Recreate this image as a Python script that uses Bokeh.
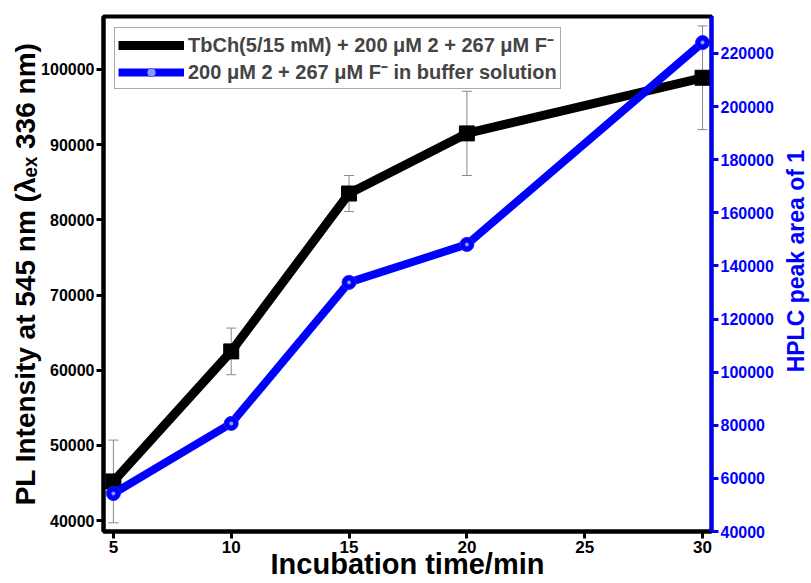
import math
from bokeh.plotting import figure
from bokeh.layouts import row
from bokeh.models import (Range1d, LinearAxis, ColumnDataSource, Whisker, Legend,
                          LegendItem, FixedTicker, BasicTickFormatter)
from bokeh.core.properties import value
from bokeh.embed import file_html
from bokeh.resources import INLINE

# ---- data ----
time_min = [5, 10, 15, 20, 30]
pl_intensity = [45200, 62500, 83500, 91500, 98900]
pl_error = [5500, 3100, 2400, 5600, 6900]
hplc_area = [54300, 80700, 133800, 148100, 224100]

x_ticks = [5, 10, 15, 20, 25, 30]
left_ticks = [40000, 50000, 60000, 70000, 80000, 90000, 100000]
right_ticks = [40000, 60000, 80000, 100000, 120000, 140000, 160000, 180000, 200000, 220000]

label_tb = "TbCh(5/15 mM) + 200 \u03bcM 2 + 267 \u03bcM F\u207b"
label_buf = "200 \u03bcM 2 + 267 \u03bcM F\u207b in buffer solution"
x_title = "Incubation time/min"
left_title = "PL Intensity at 545 nm (\u03bb\u2091\u2093 336 nm)"
right_title = "HPLC peak area of 1"

FONT = "Liberation Sans"
BLUE = "#0000ff"
MAIN_W, TITLE_W, H = 783, 28, 583

p = figure(width=MAIN_W, height=H,
           x_range=Range1d(4.58, 30.38), y_range=Range1d(38540, 107050),
           output_backend="svg", toolbar_location=None,
           min_border_left=103, min_border_right=72, min_border_top=16, min_border_bottom=52)
p.extra_y_ranges = {"right": Range1d(40000, 233930)}
p.xgrid.visible = False
p.ygrid.visible = False
p.outline_line_color = "black"
p.outline_line_width = 4
p.outline_line_alpha = 1.0
p.background_fill_color = "white"
p.border_fill_color = "white"

right_axis = LinearAxis(y_range_name="right")
p.add_layout(right_axis, "right")


def style_axis(ax, color, ticks, tick_size, title, title_size, standoff):
    ax.ticker = FixedTicker(ticks=ticks)
    ax.formatter = BasicTickFormatter(use_scientific=False)
    ax.axis_line_color = color
    ax.axis_line_width = 4
    ax.major_tick_line_color = color
    ax.major_tick_line_width = 3
    ax.major_tick_out = 7
    ax.major_tick_in = 0
    ax.minor_tick_line_color = None
    ax.major_label_text_font = FONT
    ax.major_label_text_font_style = "bold"
    ax.major_label_text_font_size = tick_size
    ax.major_label_text_color = color
    ax.major_label_standoff = 2
    if title:
        ax.axis_label = title
        ax.axis_label_text_font = FONT
        ax.axis_label_text_font_style = "bold"
        ax.axis_label_text_font_size = title_size
        ax.axis_label_text_color = color
        ax.axis_label_standoff = standoff


style_axis(p.xaxis[0], "black", x_ticks, "17px", x_title, "29px", -8)
style_axis(p.yaxis[0], "black", left_ticks, "16px", left_title, "28px", -3)
style_axis(right_axis, BLUE, right_ticks, "16px", None, None, None)

# error bars
err_src = ColumnDataSource(dict(
    x=time_min,
    upper=[v + e for v, e in zip(pl_intensity, pl_error)],
    lower=[v - e for v, e in zip(pl_intensity, pl_error)],
))
wh = Whisker(base="x", upper="upper", lower="lower", source=err_src,
             line_color="#8a8a8a", line_width=1, level="underlay")
wh.upper_head.size = 10
wh.lower_head.size = 10
wh.upper_head.line_color = "#8a8a8a"
wh.lower_head.line_color = "#8a8a8a"
p.add_layout(wh)

src_tb = ColumnDataSource(dict(x=time_min, y=pl_intensity))
src_buf = ColumnDataSource(dict(x=time_min, y=hplc_area))

l1 = p.line("x", "y", source=src_tb, line_color="black", line_width=9)
m1 = p.scatter("x", "y", source=src_tb, marker="square", size=15, fill_color="black", line_color="black")

l2 = p.line("x", "y", source=src_buf, line_color=BLUE, line_width=8, y_range_name="right")
m2 = p.scatter("x", "y", source=src_buf, marker="circle", size=14, fill_color=BLUE,
               line_color="#2020ff", line_width=1, y_range_name="right")
m2h = p.scatter("x", "y", source=src_buf, marker="circle", size=4, fill_color="#8899ff",
                line_color=None, y_range_name="right")

legend = Legend(items=[LegendItem(label=label_tb, renderers=[l1, m1]),
                       LegendItem(label=label_buf, renderers=[l2, m2, m2h])],
                location="top_left")
legend.margin = 11
legend.padding = 3
legend.spacing = 0
legend.glyph_width = 66
legend.glyph_height = 20
legend.label_standoff = 4
legend.label_text_font = FONT
legend.label_text_font_style = "bold"
legend.label_text_font_size = "20px"
legend.border_line_color = "#555555"
legend.border_line_width = 1
legend.background_fill_alpha = 1.0
p.add_layout(legend)

# narrow strip holding the right-hand axis title, reading bottom to top
p2 = figure(width=TITLE_W, height=H, x_range=Range1d(0, 1), y_range=Range1d(0, 1),
            output_backend="svg", toolbar_location=None,
            min_border_left=0, min_border_right=0, min_border_top=0, min_border_bottom=0)
p2.axis.visible = False
p2.xgrid.visible = False
p2.ygrid.visible = False
p2.outline_line_color = None
p2.background_fill_color = "white"
p2.border_fill_color = "white"
p2.text(x=[0.45], y=[0.525], text=[right_title], angle=math.pi / 2,
        text_align="center", text_baseline="middle",
        text_font=value(FONT), text_font_style="bold", text_font_size="23px",
        text_color=BLUE)

layout = row(p, p2, spacing=0)
open("out.html", "w").write(file_html(layout, INLINE))
